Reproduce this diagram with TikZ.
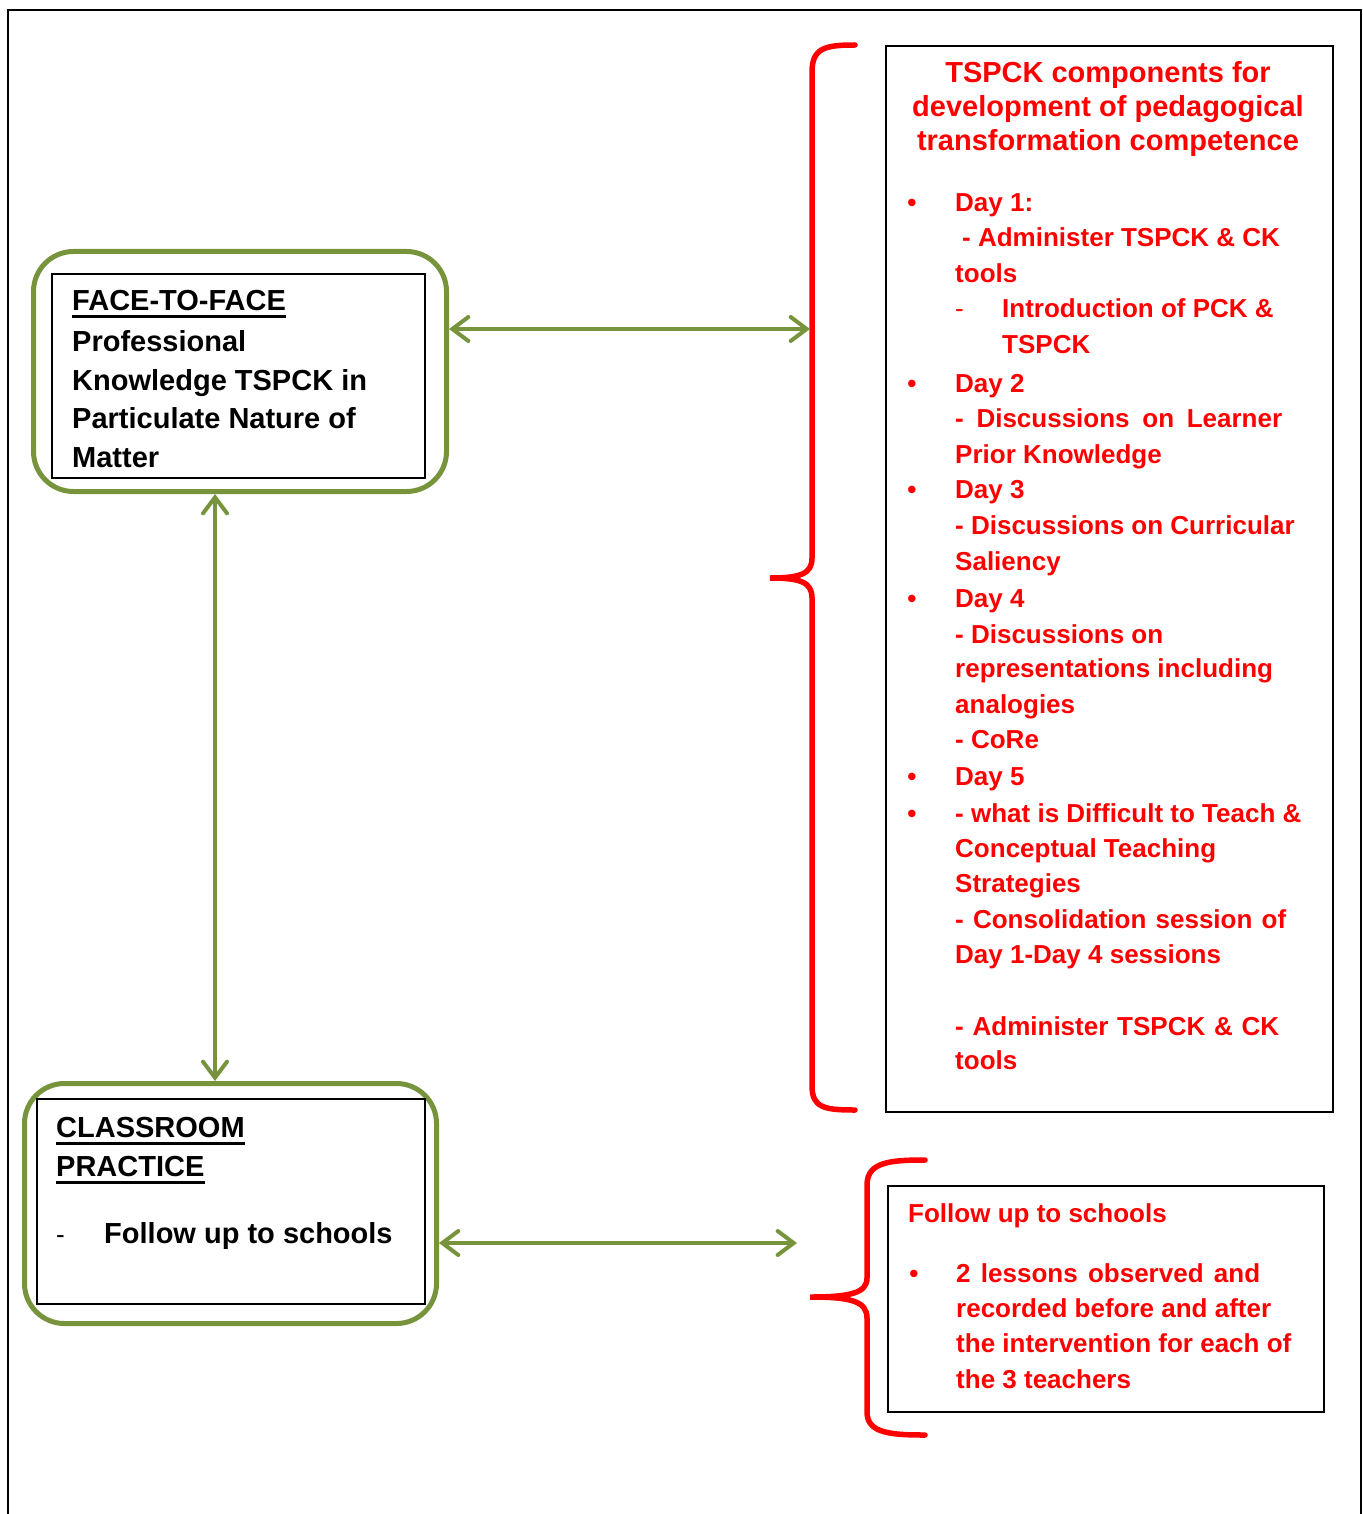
\documentclass[tikz,border=0pt]{standalone}
\usepackage{fontspec}
\setmainfont{Liberation Sans}
\usetikzlibrary{arrows.meta}
\definecolor{olive}{RGB}{119,147,60}
\begin{document}
\begin{tikzpicture}[x=1pt,y=-1pt,
  greenbox/.style={draw=olive,line width=5pt,rounded corners=40pt,inner sep=0,anchor=north west},
  blackbox/.style={draw=black,line width=2pt,inner sep=0,anchor=north west},
  redbox/.style={draw=black,line width=2pt,inner sep=0,anchor=north west},
  blk/.style={inner sep=0,anchor=base west,font=\fontsize{29}{38}\selectfont\bfseries,text=black},
  red/.style={inner sep=0,anchor=base west,font=\fontsize{26}{36}\selectfont\bfseries,text=red},
  ttl/.style={inner sep=0,anchor=base,font=\fontsize{29}{34}\selectfont\bfseries,text=red},
  bul/.style={inner sep=0,anchor=base,font=\fontsize{26}{36}\selectfont\bfseries,text=red},
  garrow/.style={draw=olive,line width=4pt,{Straight Barb[length=16pt,width=24pt,line cap=round]}-{Straight Barb[length=16pt,width=24pt,line cap=round]}},
  brace/.style={draw=red,line width=5.5pt,line cap=round},
  frame/.style={draw=black,line width=2.5pt}]
\useasboundingbox (0,0) rectangle (1362,1514);
\fill[white] (0,0) rectangle (1362,1514);
% outer frame
\draw[frame] (8,1514) -- (8,10) -- (1361,10) -- (1361,1514);

% face-to-face box
\node[greenbox,minimum width=413pt,minimum height=240pt] (fg) at (31,249) {};
\node[blackbox,minimum width=373pt,minimum height=204pt] (fb) at (51,273) {};
\node[blk] (f1) at (72,310) {FACE-TO-FACE};
\draw[line width=3pt] ([yshift=-6pt]f1.base west) -- ([yshift=-6pt]f1.base east);
\node[blk] (f2) at (72,351) {Professional};
\node[blk] (f3) at (72,390) {Knowledge TSPCK in};
\node[blk] (f4) at (72,428) {Particulate Nature of};
\node[blk] (f5) at (72,467) {Matter};

% classroom box
\node[greenbox,minimum width=412pt,minimum height=240pt] (cg) at (22,1081) {};
\node[blackbox,minimum width=388pt,minimum height=205pt] (cb) at (36,1098) {};
\node[blk] (c1) at (56,1137) {CLASSROOM};
\draw[line width=3pt] ([yshift=-6pt]c1.base west) -- ([yshift=-6pt]c1.base east);
\node[blk] (c2) at (56,1176) {PRACTICE};
\draw[line width=3pt] ([yshift=-6pt]c2.base west) -- ([yshift=-6pt]c2.base east);
\node[inner sep=0,anchor=base west,font=\fontsize{26}{30}\selectfont] (cd) at (56,1243) {-};
\node[blk] (c3) at (104,1243) {Follow up to schools};

% big brace
\coordinate (bt1) at (770,578);
\draw[brace] (855,45) .. controls (825,45) and (812,48) .. (812,72) -- (812,558)
  .. controls (812,574) and (800,578) .. (bt1)
  .. controls (800,578) and (812,582) .. (812,598) -- (812,1086)
  .. controls (812,1108) and (825,1110) .. (855,1110);
% small brace
\coordinate (bt2) at (810,1297);
\draw[brace] (925,1160) .. controls (890,1160) and (867,1162) .. (867,1185) -- (867,1278)
  .. controls (867,1293) and (850,1297) .. (bt2)
  .. controls (850,1297) and (867,1301) .. (867,1318) -- (867,1412)
  .. controls (867,1433) and (890,1435) .. (925,1435);

% connectors
\coordinate (e1) at (810,329);
\coordinate (e2) at (797,1243);
\draw[garrow] (fg.east |- e1) -- (e1);
\draw[garrow] (cg.east |- e2) -- (e2);
\draw[garrow] (fg.south -| 215,0) -- (cg.north -| 215,0);

% red box 1
\node[redbox,minimum width=447pt,minimum height=1066pt] (rb1) at (885,45) {};
\node[ttl] (t1) at (1108,83) {TSPCK components for};
\node[ttl] (t2) at (1108,117) {development of pedagogical};
\node[ttl] (t3) at (1108,151) {transformation competence};

\node[bul] (b1) at (912,212) {•};
\node[red] (r1) at (955,212) {Day 1:};
\node[red] (r2) at (962,247) {- Administer TSPCK \& CK};
\node[red] (r3) at (955,283) {tools};
\node[inner sep=0,anchor=base west,font=\fontsize{26}{30}\selectfont,text=red] (rd) at (955,317) {-};
\node[red] (r4) at (1002,317) {Introduction of PCK \&};
\node[red] (r5) at (1002,353) {TSPCK};
\node[bul] (b2) at (912,392) {•};
\node[red] (r6) at (955,392) {Day 2};
\node[red] (r7) at (955,427) {\makebox[327pt][s]{- Discussions on Learner}};
\node[red] (r8) at (955,463) {Prior Knowledge};
\node[bul] (b3) at (912,498) {•};
\node[red] (r9) at (955,498) {Day 3};
\node[red] (r10) at (955,534) {- Discussions on Curricular};
\node[red] (r11) at (955,570) {Saliency};
\node[bul] (b4) at (912,607) {•};
\node[red] (r12) at (955,607) {Day 4};
\node[red] (r13) at (955,643) {- Discussions on};
\node[red] (r14) at (955,677) {representations including};
\node[red] (r15) at (955,713) {analogies};
\node[red] (r16) at (955,748) {- CoRe};
\node[bul] (b5) at (912,785) {•};
\node[red] (r17) at (955,785) {Day 5};
\node[bul] (b6) at (912,822) {•};
\node[red] (r18) at (955,822) {- what is Difficult to Teach \&};
\node[red] (r19) at (955,857) {Conceptual Teaching};
\node[red] (r20) at (955,892) {Strategies};
\node[red] (r21) at (955,928) {\makebox[331pt][s]{- Consolidation session of}};
\node[red] (r22) at (955,963) {Day 1-Day 4 sessions};
\node[red] (r23) at (955,1035) {\makebox[324pt][s]{- Administer TSPCK \& CK}};
\node[red] (r24) at (955,1069) {tools};

% red box 2
\node[redbox,minimum width=436pt,minimum height=226pt] (rb2) at (887,1185) {};
\node[red] (s1) at (908,1222) {Follow up to schools};
\node[bul] (b7) at (914,1282) {•};
\node[red] (s2) at (956,1282) {\makebox[304pt][s]{2 lessons observed and}};
\node[red] (s3) at (956,1317) {recorded before and after};
\node[red] (s4) at (956,1352) {the intervention for each of};
\node[red] (s5) at (956,1388) {the 3 teachers};
\end{tikzpicture}
\end{document}
